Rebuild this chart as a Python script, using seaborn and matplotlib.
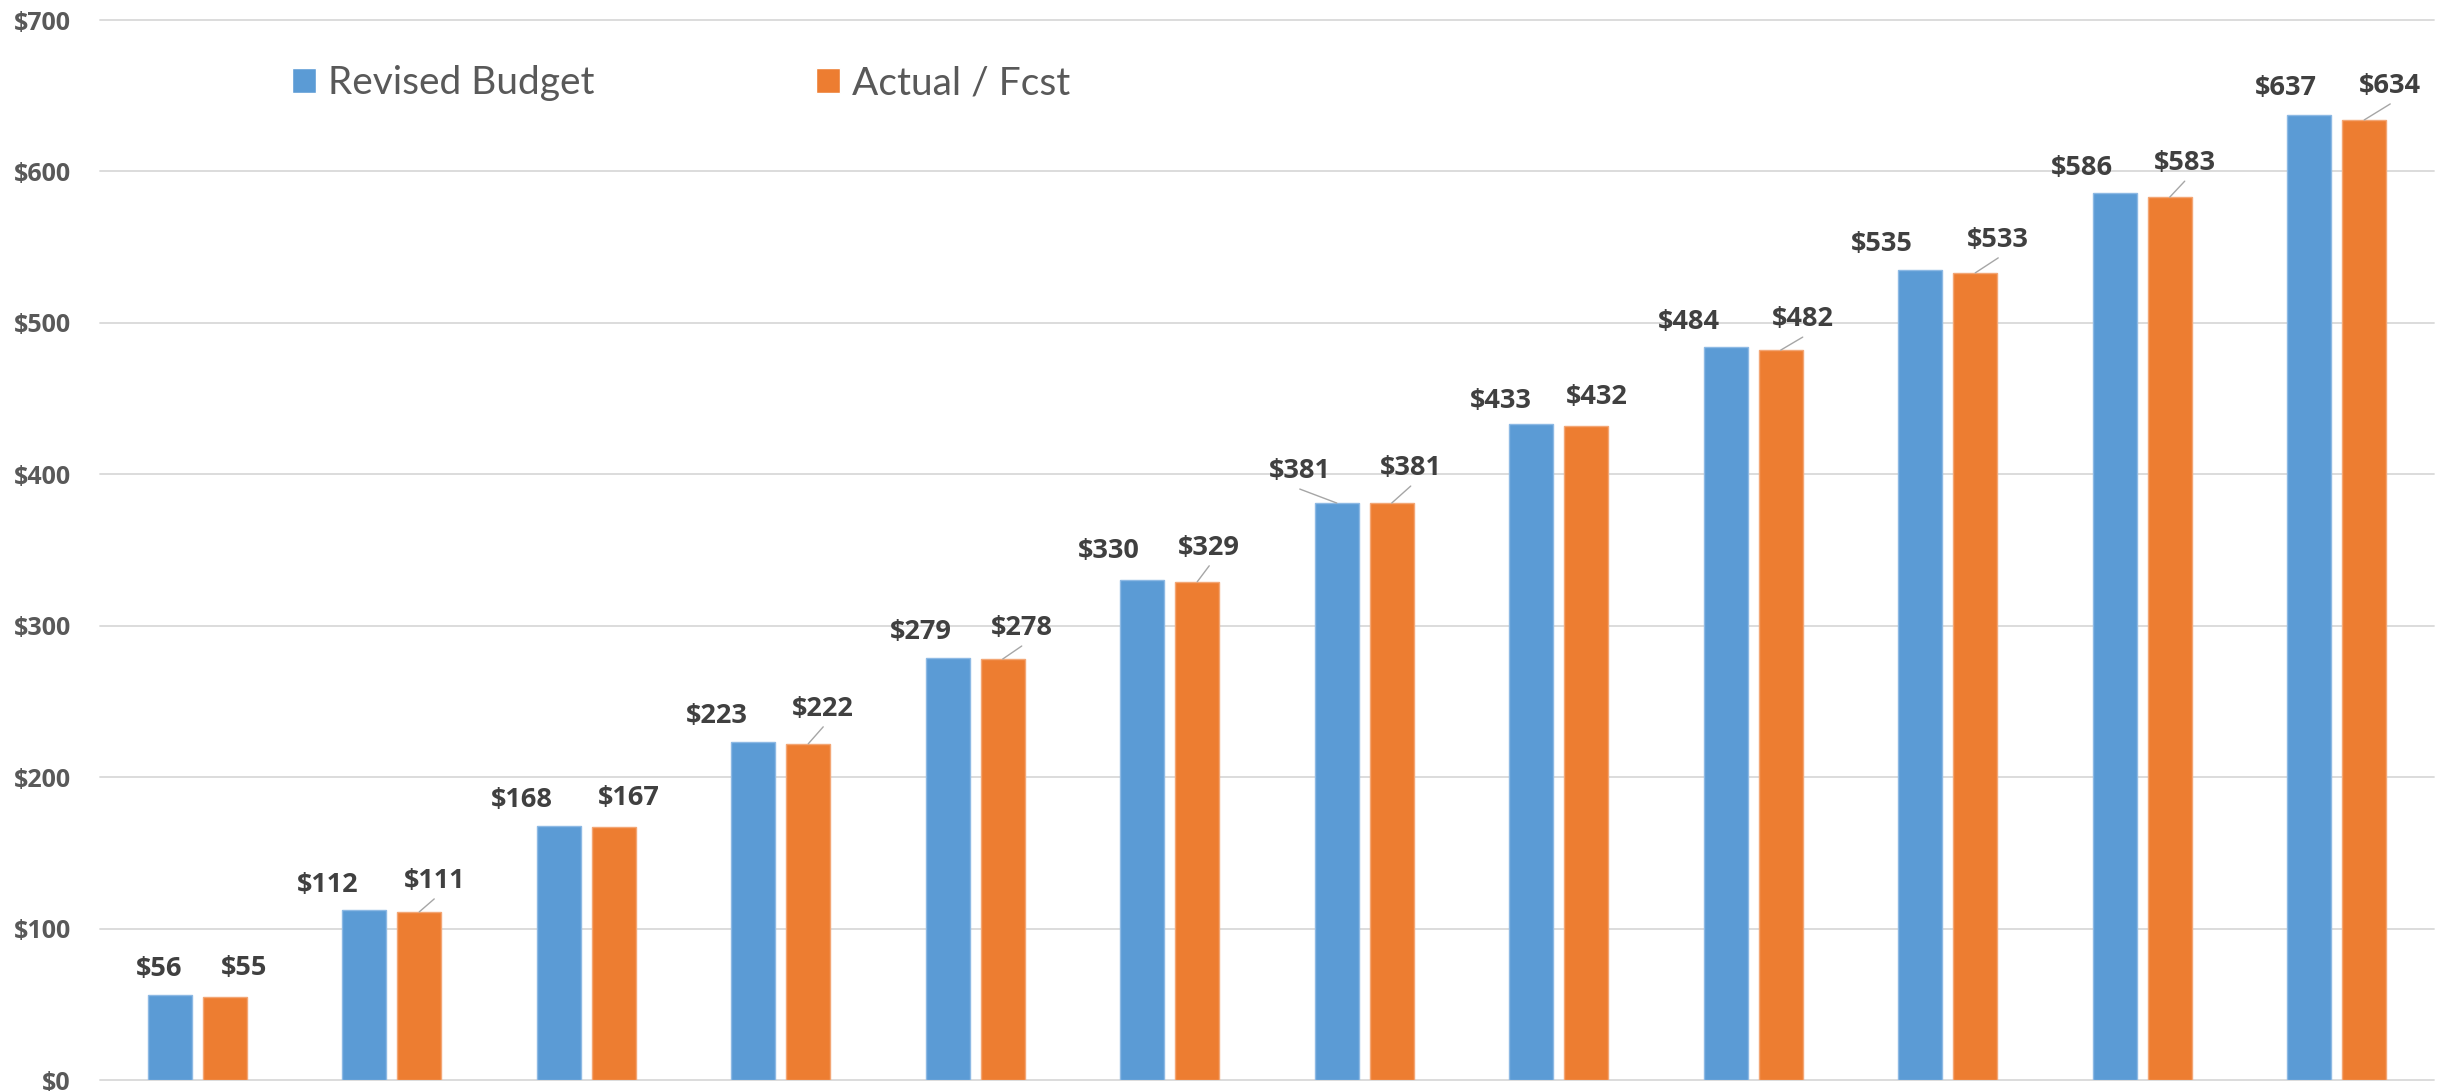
import pandas as pd
import seaborn as sns
import matplotlib.pyplot as plt
from matplotlib.ticker import FuncFormatter

# values
periods = ['P1', 'P2', 'P3', 'P4', 'P5', 'P6', 'P7', 'P8', 'P9', 'P10', 'P11', 'P12']
revised_budget = [56, 112, 168, 223, 279, 330, 381, 433, 484, 535, 586, 637]
actual_fcst = [55, 111, 167, 222, 278, 329, 381, 432, 482, 533, 583, 634]
series_names = ['Revised Budget', 'Actual / Fcst']
y_ticks = [0, 100, 200, 300, 400, 500, 600, 700]

# label nudges (pixels) as the labels were dragged in the original
budget_dx = [-11, -37, -37, -36, -27, -33, -37, -30, -37, -38, -33, -23]
budget_dy = [29, 28, 29, 29, 29, 32, 35, 26, 28, 29, 28, 30]
budget_leader = [0, 0, 0, 0, 0, 0, 1, 0, 0, 0, 0, 0]
actual_dx = [19, 15, 15, 15, 19, 12, 19, 11, 22, 23, 15, 26]
actual_dy = [32, 34, 32, 38, 34, 37, 38, 32, 34, 36, 37, 37]
actual_leader = [0, 1, 0, 1, 1, 1, 1, 0, 1, 1, 1, 1]

df = pd.DataFrame({
    'period': periods * 2,
    'value': revised_budget + actual_fcst,
    'series': [series_names[0]] * len(periods) + [series_names[1]] * len(periods),
})

sns.set_style('white')
plt.rcParams['font.family'] = ['Lato', 'DejaVu Sans']
bold_font = ['Open Sans', 'DejaVu Sans']

fig = plt.figure(figsize=(24.47, 10.91), dpi=100)
ax = fig.add_axes([100 / 2447, 11 / 1091, 2334 / 2447, 1060 / 1091])

sns.barplot(data=df, x='period', y='value', hue='series',
            palette=['#5B9BD5', '#ED7D31'], width=0.565, gap=0.2,
            saturation=1, ax=ax, legend=True)

ax.set_xlim(-0.5, 11.5)
ax.set_ylim(0, 700)
ax.set_yticks(y_ticks)
ax.yaxis.set_major_formatter(FuncFormatter(lambda v, p: f'${v:.0f}'))
ax.tick_params(axis='y', length=0, pad=21, labelsize=18, labelcolor='#595959')
for t in ax.get_yticklabels():
    t.set_fontweight('bold')
    t.set_family(bold_font)
ax.set_xticks([])
ax.set_xlabel('')
ax.set_ylabel('')

ax.yaxis.grid(True, color='#d9d9d9', linewidth=1.3)
ax.set_axisbelow(True)
for line in ax.get_ygridlines():
    line.set_clip_on(False)
for s in ['top', 'right', 'left', 'bottom']:
    ax.spines[s].set_visible(False)

px = 0.72  # pixel -> points at 100 dpi
edges = ['#8DB9E4', '#F3A675']
nudges = [(budget_dx, budget_dy, budget_leader), (actual_dx, actual_dy, actual_leader)]
for k, cont in enumerate(ax.containers):
    dxs, dys, leads = nudges[k]
    for i, bar in enumerate(cont):
        bar.set_edgecolor(edges[k])
        bar.set_linewidth(1.0)
        x = bar.get_x() + bar.get_width() / 2
        h = bar.get_height()
        dy = dys[i] - 3
        ax.annotate(f'${h:.0f}', xy=(x, h), xytext=(dxs[i] * px, dy * px),
                    textcoords='offset points', ha='center', va='center',
                    fontsize=19.5, fontweight='bold', family=bold_font, color='#404040')
        if leads[i]:
            ax.annotate('', xy=(x, h), xytext=(dxs[i] * px, (dy - 18) * px),
                        textcoords='offset points',
                        arrowprops=dict(arrowstyle='-', color='#a6a6a6', lw=1.0,
                                        shrinkA=0, shrinkB=0))

handles, labels = ax.get_legend_handles_labels()
ax.legend(handles, labels, loc='center left', frameon=False,
          bbox_to_anchor=(292 / 2447, 1 - 83 / 1091), bbox_transform=fig.transFigure,
          ncol=2, fontsize=28, labelcolor='#595959',
          handlelength=0.62, handleheight=0.62, handletextpad=0.31,
          columnspacing=5.7, borderpad=0, borderaxespad=0)

fig.savefig('out.png', dpi=100)
